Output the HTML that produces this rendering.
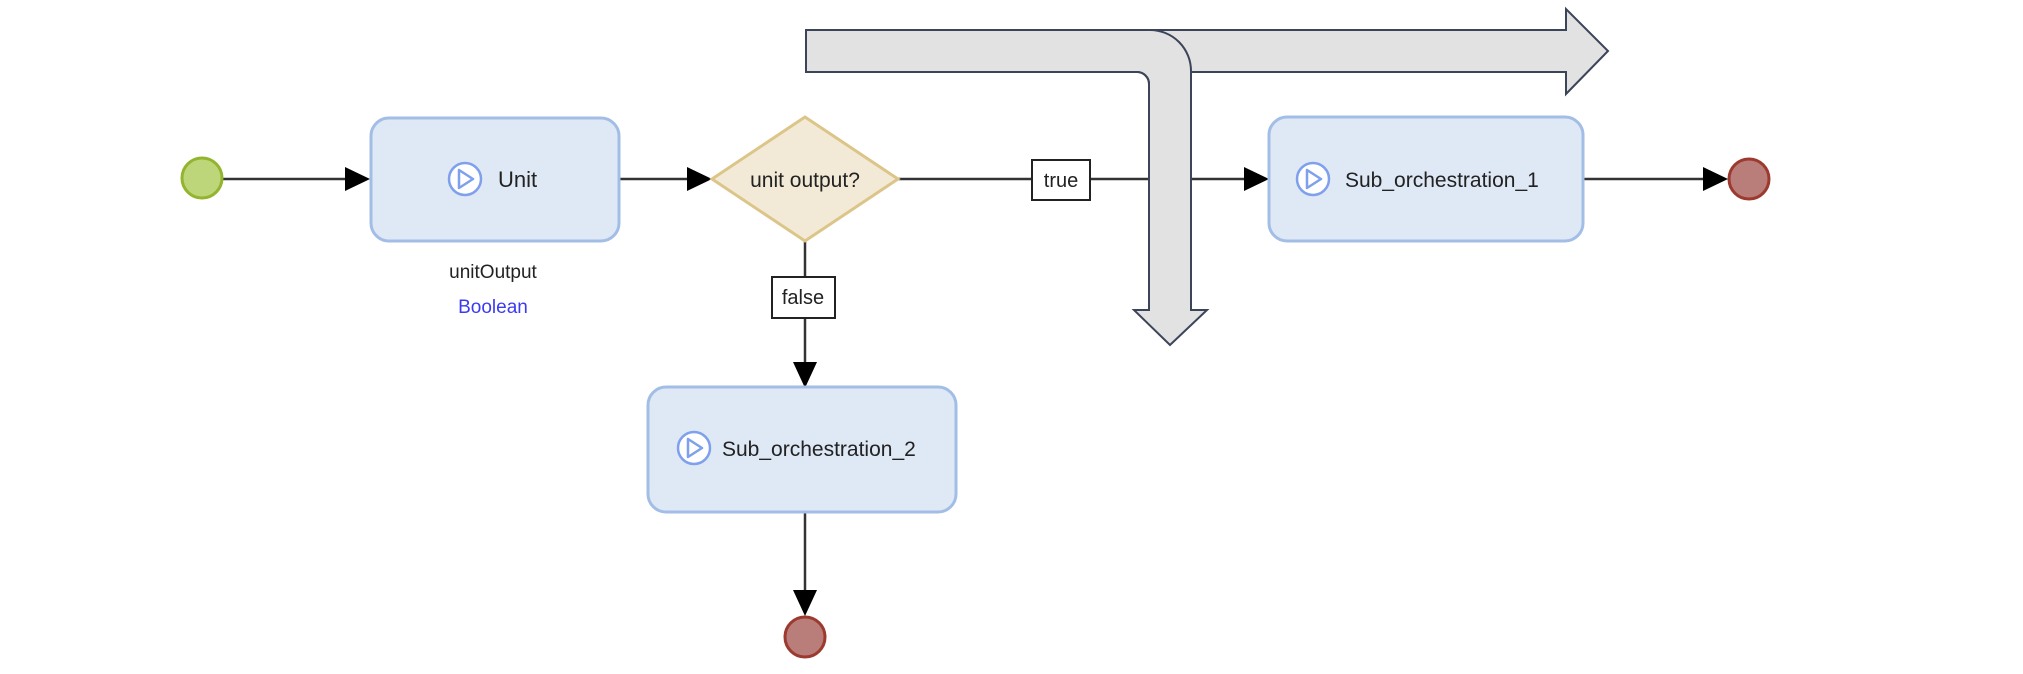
<!DOCTYPE html>
<html><head><meta charset="utf-8"><style>
html,body{margin:0;padding:0;background:#fff;}
svg{display:block;}
text{font-family:"Liberation Sans",sans-serif;fill:#222;}
</style></head><body>
<svg width="2023" height="674" viewBox="0 0 2023 674" xmlns="http://www.w3.org/2000/svg">
<g stroke="#333" stroke-width="2.5" fill="none">
<line x1="223" y1="179" x2="350" y2="179"/>
<line x1="619" y1="179" x2="690" y2="179"/>
<line x1="893" y1="179" x2="1248" y2="179"/>
<line x1="1584" y1="179" x2="1708" y2="179"/>
<line x1="805" y1="241" x2="805" y2="366"/>
<line x1="805" y1="513" x2="805" y2="594"/>
</g>
<g fill="#000">
<polygon points="370,179 345,167 345,191"/>
<polygon points="712,179 687,167 687,191"/>
<polygon points="1269,179 1244,167 1244,191"/>
<polygon points="1728,179 1703,167 1703,191"/>
<polygon points="805,388 793,362 817,362"/>
<polygon points="805,616 793,590 817,590"/>
</g>
<circle cx="202" cy="178" r="20" fill="#bdd67a" stroke="#93b52e" stroke-width="3"/>
<circle cx="1749" cy="179" r="20" fill="#b97d7a" stroke="#9c3a30" stroke-width="3"/>
<circle cx="805" cy="637" r="20" fill="#b97d7a" stroke="#9c3a30" stroke-width="3"/>
<rect x="371" y="118" width="248" height="123" rx="18" fill="#dfe8f5" stroke="#a3bee6" stroke-width="3"/>
<circle cx="465" cy="179" r="16" fill="#fff" stroke="#7fa0ec" stroke-width="2.5"/>
<polygon points="459,170 459,188 473,179" fill="none" stroke="#7fa0ec" stroke-width="2.5" stroke-linejoin="round"/>
<text x="498" y="187" font-size="22">Unit</text>
<text x="493" y="278" font-size="19" text-anchor="middle">unitOutput</text>
<text x="493" y="313" font-size="19" text-anchor="middle" style="fill:#3b3bf0">Boolean</text>
<polygon points="712,179 805,117 898,179 805,241" fill="#f2ead6" stroke="#dcc588" stroke-width="3"/>
<text x="805" y="187" font-size="21" text-anchor="middle">unit output?</text>
<rect x="1032" y="160" width="58" height="40" fill="#fff" stroke="#222" stroke-width="2"/>
<text x="1061" y="187" font-size="20" text-anchor="middle">true</text>
<rect x="772" y="277" width="63" height="41" fill="#fff" stroke="#222" stroke-width="2"/>
<text x="803" y="304" font-size="20" text-anchor="middle">false</text>
<rect x="648" y="387" width="308" height="125" rx="18" fill="#dfe8f5" stroke="#a3bee6" stroke-width="3"/>
<circle cx="694" cy="448" r="16" fill="#fff" stroke="#7fa0ec" stroke-width="2.5"/>
<polygon points="688,439 688,457 702,448" fill="none" stroke="#7fa0ec" stroke-width="2.5" stroke-linejoin="round"/>
<text x="722" y="456" font-size="21">Sub_orchestration_2</text>
<rect x="1269" y="117" width="314" height="124" rx="18" fill="#dfe8f5" stroke="#a3bee6" stroke-width="3"/>
<circle cx="1313" cy="179" r="16" fill="#fff" stroke="#7fa0ec" stroke-width="2.5"/>
<polygon points="1307,170 1307,188 1321,179" fill="none" stroke="#7fa0ec" stroke-width="2.5" stroke-linejoin="round"/>
<text x="1345" y="187" font-size="21">Sub_orchestration_1</text>
<path d="M806,30 L1150,30 A41,41 0 0 1 1191,71 L1191,310 L1207,310 L1170,345 L1134,310 L1149,310 L1149,84 A12,12 0 0 0 1137,72 L806,72 Z" fill="#e2e2e2" stroke="#3c4459" stroke-width="2"/>
<path d="M1150,30 L1566,30 L1566,9 L1608,51 L1566,94 L1566,72 L1191,72 L1191,80 L1150,80 Z" fill="#e2e2e2" stroke="none"/>
<path d="M1150,30 L1566,30 L1566,9 L1608,51 L1566,94 L1566,72 L1191,72" fill="none" stroke="#3c4459" stroke-width="2"/>
<path d="M1150,30 A41,41 0 0 1 1191,71 L1191,90 M1149,90 L1149,84 A12,12 0 0 0 1137,72" fill="none" stroke="#3c4459" stroke-width="2"/>
</svg>
</body></html>
